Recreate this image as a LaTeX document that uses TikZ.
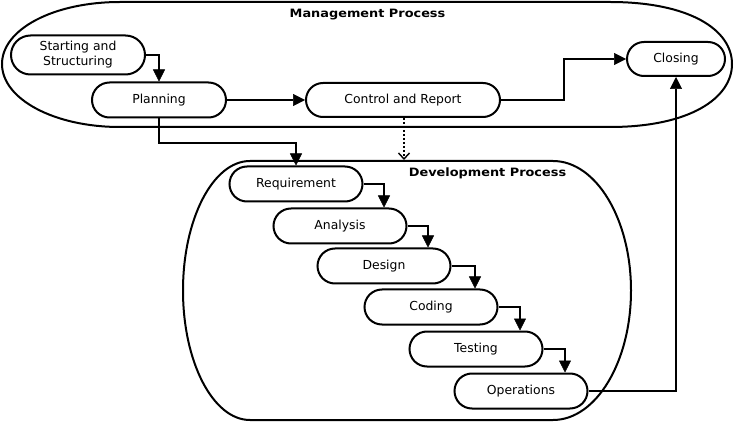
\documentclass[tikz,border=0pt]{standalone}
\usepackage{fontspec}
\setmainfont{DejaVu Sans}
\usetikzlibrary{shapes.misc,arrows.meta}
\tikzset{
  pill/.style={draw, line width=2pt, rounded rectangle, minimum height=35pt,
    minimum width=133pt, inner sep=0pt, font=\fontsize{12.4}{15}\selectfont, align=center},
  arr/.style={line width=2pt, -{Triangle[length=12pt,width=12pt,line width=0.5pt]}},
  dotarr/.style={line width=2pt, dotted, -{Straight Barb[length=6pt,width=11pt,line width=1.4pt]}},
  outline/.style={line width=2pt},
  title/.style={font=\bfseries\fontsize{11.5}{13}\selectfont, inner sep=0pt}
}
\begin{document}
\begin{tikzpicture}[x=1pt,y=-1pt]
\useasboundingbox (0,0) rectangle (734,422);
% Management process outline
\draw[outline] (120,2) -- (610,2)
  .. controls (690,2) and (732,30) .. (732,64)
  .. controls (732,98) and (690,127) .. (610,127)
  -- (120,127)
  .. controls (54,127) and (2,99) .. (2,64)
  .. controls (2,29) and (54,2) .. (120,2) -- cycle;
% Development process outline
\draw[outline] (250,161) -- (553,161)
  .. controls (596,161) and (631,219) .. (631,290.5)
  .. controls (631,362) and (596,420) .. (553,420)
  -- (250,420)
  .. controls (213,420) and (183,362) .. (183,290.5)
  .. controls (183,219) and (213,161) .. (250,161) -- cycle;
\node[title] (mtitle) at (367.5,15) {\scalebox{1.12}[1]{Management Process}};
\node[title] (dtitle) at (487.5,173) {\scalebox{1.12}[1]{Development Process}};
% nodes
\node[pill, minimum width=134pt, minimum height=39pt] (start) at (78,55) {Starting and\\Structuring};
\node[pill, minimum width=134pt] (plan) at (159,100) {Planning};
\node[pill, minimum width=194pt, minimum height=34pt] (ctrl) at (403,100) {Control and Report};
\node[pill, minimum width=98pt, minimum height=34pt] (close) at (676,59) {Closing};
\node[pill] (req) at (296,184) {Requirement};
\node[pill] (ana) at (340,226) {Analysis};
\node[pill] (des) at (384,266) {Design};
\node[pill] (cod) at (431,307) {Coding};
\node[pill] (tes) at (476,349) {Testing};
\node[pill] (ops) at (521,391) {Operations};
\coordinate (devtop) at (404,160);
% connectors
\draw[arr] (start.east) -| (plan.north);
\draw[arr] (plan.east) -- (ctrl.west);
\draw[arr] (plan.south) -- ++(0,24.5) -| (req.north);
\draw[dotarr] (ctrl.south -| devtop) -- (devtop);
\draw[arr] (ctrl.east) -- ++(63,0) |- (close.west);
\draw[arr] (req.east) -| ([xshift=44pt]ana.north);
\draw[arr] (ana.east) -| ([xshift=44pt]des.north);
\draw[arr] (des.east) -| ([xshift=44pt]cod.north);
\draw[arr] (cod.east) -| ([xshift=44pt]tes.north);
\draw[arr] (tes.east) -| ([xshift=44pt]ops.north);
\draw[arr] (ops.east) -| (close.south);
\end{tikzpicture}
\end{document}
